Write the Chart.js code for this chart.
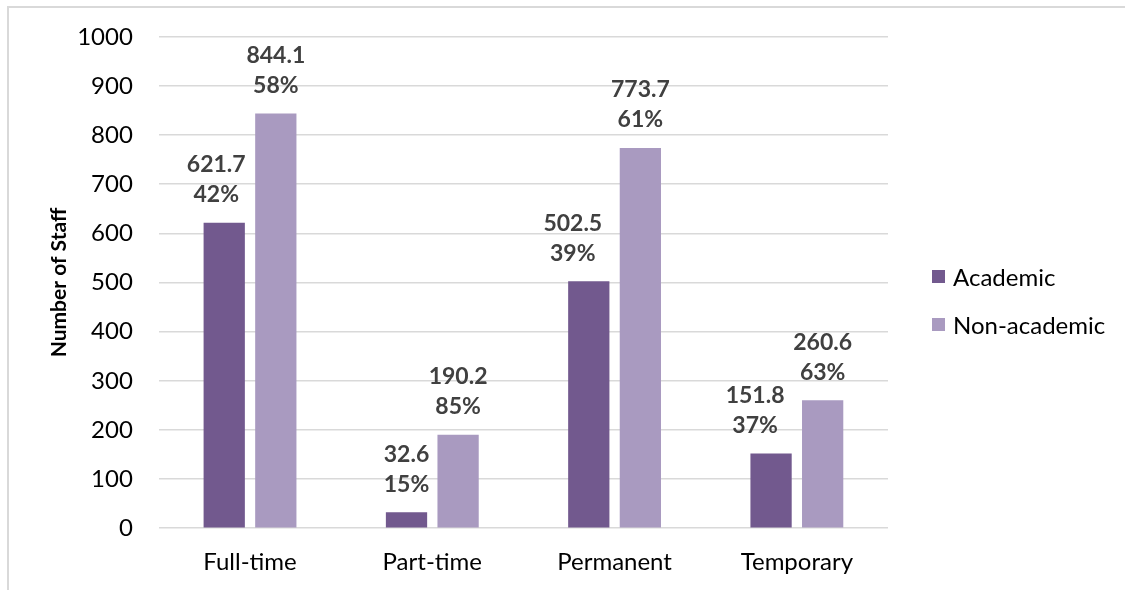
<!DOCTYPE html>
<html>
<head>
<meta charset="utf-8">
<script src="https://cdn.jsdelivr.net/npm/chart.js@4/dist/chart.umd.min.js"></script>
<style>
  html, body { margin: 0; padding: 0; background: #fff; overflow: hidden; }
  #wrap { position: relative; width: 1125px; height: 590px; font-family: Lato, "Open Sans", sans-serif; }
  #frame {
    position: absolute; left: 7px; top: 6px; width: 1200px; height: 700px;
    border: 2px solid #d9d9d9; box-sizing: border-box;
  }
  canvas { position: absolute; left: 0; top: 0; }
  #legend { position: absolute; left: 932px; top: 252px; }
  #legend .item { display: flex; align-items: center; height: 48px; font-size: 24px; color: #000; }
  #legend .swatch { width: 13px; height: 13px; margin-right: 8px; }
</style>
</head>
<body>
<div id="wrap">
  <div id="frame"></div>
  <canvas id="staffChart" width="1125" height="590"></canvas>
  <div id="legend"></div>
</div>
<script>
// Staff numbers by contract type
const categories = ['Full-time', 'Part-time', 'Permanent', 'Temporary'];
const academic = [621.7, 32.6, 502.5, 151.8];
const nonAcademic = [844.1, 190.2, 773.7, 260.6];
const academicPct = ['42%', '15%', '39%', '37%'];
const nonAcademicPct = ['58%', '85%', '61%', '63%'];
const yTicks = [0, 100, 200, 300, 400, 500, 600, 700, 800, 900, 1000];

const fontFamily = 'Lato, "Open Sans", sans-serif';

// horizontal nudge for labels that would crowd the neighbouring bar
const labelNudge = [[-8, 0, -16, -16], [0, 0, 0, 0]];

// Two-line labels (value + share) above each bar
const barLabels = {
  id: 'barLabels',
  afterDatasetsDraw(chart) {
    const ctx = chart.ctx;
    ctx.save();
    ctx.font = 'bold 23px ' + fontFamily;
    ctx.fillStyle = '#404040';
    ctx.textAlign = 'center';
    ctx.textBaseline = 'middle';
    chart.data.datasets.forEach((ds, i) => {
      const meta = chart.getDatasetMeta(i);
      meta.data.forEach((bar, j) => {
        const x = bar.x + labelNudge[i][j];
        ctx.fillText(ds.data[j].toFixed(1), x, bar.y - 58);
        ctx.fillText(ds.pct[j], x, bar.y - 28);
      });
    });
    ctx.restore();
  }
};

const chart = new Chart(document.getElementById('staffChart'), {
  type: 'bar',
  data: {
    labels: categories,
    datasets: [
      {
        label: 'Academic',
        data: academic,
        pct: academicPct,
        backgroundColor: '#72598e'
      },
      {
        label: 'Non-academic',
        data: nonAcademic,
        pct: nonAcademicPct,
        backgroundColor: '#a99ac0'
      }
    ]
  },
  options: {
    responsive: false,
    animation: false,
    categoryPercentage: 0.566,
    barPercentage: 0.8,
    layout: {
      padding: { left: 4, top: 10, right: 237, bottom: -7 }
    },
    plugins: {
      legend: { display: false },
      tooltip: { enabled: false }
    },
    scales: {
      x: {
        grid: { display: false, drawTicks: false },
        border: { display: false },
        ticks: {
          color: '#000',
          padding: 20,
          font: { family: fontFamily, size: 24 }
        }
      },
      y: {
        min: 0,
        max: 1000,
        afterBuildTicks(axis) {
          axis.ticks = yTicks.map(v => ({ value: v }));
        },
        grid: { color: '#d9d9d9', lineWidth: 1.5, drawTicks: false },
        border: { display: false },
        ticks: {
          color: '#000',
          padding: 26,
          font: { family: fontFamily, size: 24, lineHeight: 0.9 },
          callback: v => String(v)
        },
        title: {
          display: true,
          text: 'Number of Staff',
          color: '#000',
          padding: { top: 43, bottom: -21 },
          font: { family: fontFamily, size: 21, weight: 'bold' }
        }
      }
    }
  },
  plugins: [barLabels]
});

// Legend on the right, built from the chart's own legend items
const legendEl = document.getElementById('legend');
Chart.defaults.plugins.legend.labels.generateLabels(chart).forEach(item => {
  const row = document.createElement('div');
  row.className = 'item';
  const box = document.createElement('span');
  box.className = 'swatch';
  box.style.background = item.fillStyle;
  row.appendChild(box);
  row.appendChild(document.createTextNode(item.text));
  legendEl.appendChild(row);
});
</script>
</body>
</html>
